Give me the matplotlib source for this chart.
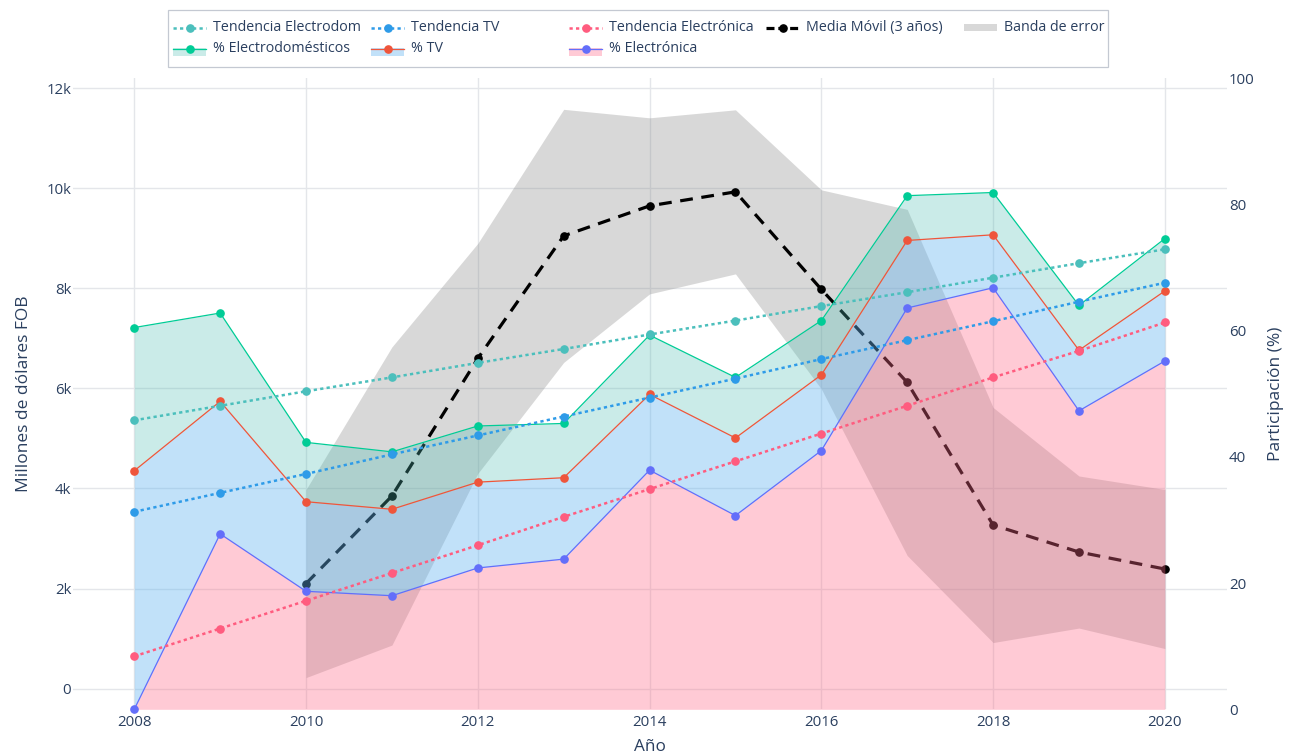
import matplotlib
matplotlib.use('Agg')
import matplotlib.pyplot as plt
import numpy as np
from matplotlib.patches import Rectangle
from matplotlib.ticker import FuncFormatter, FixedLocator

plt.rcParams['font.family'] = ['Open Sans', 'DejaVu Sans']

# ---------------- data ----------------
years = [2008, 2009, 2010, 2011, 2012, 2013, 2014, 2015, 2016, 2017, 2018, 2019, 2020]
pct_electronica = [0.0, 27.8, 18.7, 18.0, 22.4, 23.8, 37.9, 30.7, 41.0, 63.6, 66.8, 47.3, 55.2]
pct_tv = [37.8, 48.8, 32.9, 31.7, 36.0, 36.7, 49.9, 43.0, 53.0, 74.3, 75.2, 56.9, 66.3]
pct_electrodom = [60.5, 62.8, 42.3, 40.8, 44.9, 45.3, 59.3, 52.6, 61.6, 81.4, 81.9, 64.0, 74.6]
trend_electrodom = [45.8, 48.1, 50.4, 52.6, 54.9, 57.1, 59.4, 61.6, 63.9, 66.1, 68.4, 70.7, 72.9]
trend_tv = [31.3, 34.3, 37.3, 40.4, 43.4, 46.4, 49.4, 52.4, 55.5, 58.5, 61.5, 64.6, 67.6]
trend_electronica = [8.4, 12.8, 17.2, 21.6, 26.0, 30.5, 34.9, 39.3, 43.7, 48.1, 52.6, 56.8, 61.3]

mm_years = [2010, 2011, 2012, 2013, 2014, 2015, 2016, 2017, 2018, 2019, 2020]
media_movil = [2100, 3850, 6600, 9050, 9650, 9930, 7980, 6120, 3270, 2730, 2390]
error_band = [1880, 2980, 2300, 2530, 1760, 1640, 1990, 3460, 2350, 1520, 1590]

xticks = [2008, 2010, 2012, 2014, 2016, 2018, 2020]
left_ticks = [0, 2000, 4000, 6000, 8000, 10000, 12000]
right_ticks = [0, 20, 40, 60, 80, 100]

# ---------------- style ----------------
TXT = '#2a3f5f'
GRID = '#e4e6ea'
C_EL = '#636EFA'
C_TV = '#EF553B'
C_ED = '#00CC96'
C_T_ED = '#4BBFBC'
C_T_TV = '#2E9BE8'
C_T_EL = '#FF5C7F'
F_EL = (1.0, 105/255, 135/255, 0.35)
F_TV = (100/255, 180/255, 240/255, 0.40)
F_ED = (80/255, 190/255, 180/255, 0.30)
F_BAND = (0.5, 0.5, 0.5, 0.30)
DOT = (0, (1.3, 1.3))
DASH = (0, (4, 2.7))
MS = 5.2

W, H = 1294, 756
fig = plt.figure(figsize=(W/100, H/100), dpi=100)
x0, x1, yt, yb = 73.3, 1226.7, 78.3, 709.3
ax = fig.add_axes([x0/W, 1-yb/H, (x1-x0)/W, (yb-yt)/H])
ax2 = ax.twinx()

# left axis: moving average and error band
mm = np.array(media_movil, dtype=float)
err = np.array(error_band, dtype=float)
ax.fill_between(mm_years, mm-err, mm+err, color=F_BAND, lw=0, zorder=1)
ax.plot(mm_years, mm, color='black', lw=2.3, ls=DASH, marker='o', ms=MS, zorder=2)

# right axis: shares
ax2.fill_between(years, 0, pct_electronica, color=F_EL, lw=0, zorder=1)
ax2.fill_between(years, pct_electronica, pct_tv, color=F_TV, lw=0, zorder=1)
ax2.fill_between(years, pct_tv, pct_electrodom, color=F_ED, lw=0, zorder=1)

ax2.plot(years, pct_electronica, color=C_EL, lw=0.9, marker='o', ms=MS, zorder=3, clip_on=False)
ax2.plot(years, pct_tv, color=C_TV, lw=0.9, marker='o', ms=MS, zorder=3)
ax2.plot(years, pct_electrodom, color=C_ED, lw=0.9, marker='o', ms=MS, zorder=3)

ax2.plot(years, trend_electrodom, color=C_T_ED, lw=1.8, ls=DOT, marker='o', ms=MS, zorder=4)
ax2.plot(years, trend_tv, color=C_T_TV, lw=1.8, ls=DOT, marker='o', ms=MS, zorder=4)
ax2.plot(years, trend_electronica, color=C_T_EL, lw=1.8, ls=DOT, marker='o', ms=MS, zorder=4)

# axes limits and ticks
ax.set_xlim(2007.29, 2020.72)
ax.set_ylim(-414, 12200)
ax2.set_ylim(0, 100)
ax.xaxis.set_major_locator(FixedLocator(xticks))
ax.yaxis.set_major_locator(FixedLocator(left_ticks))
ax2.yaxis.set_major_locator(FixedLocator(right_ticks))
ax.yaxis.set_major_formatter(FuncFormatter(lambda v, p: '0' if v == 0 else f'{int(v/1000)}k'))

ax.set_axisbelow(True)
ax.grid(True, color=GRID, lw=1.0, zorder=0)
for a in (ax, ax2):
    for s in a.spines.values():
        s.set_visible(False)
    a.tick_params(length=0, labelsize=10.8, colors=TXT)
ax.tick_params(axis='y', pad=1.5)
ax.tick_params(axis='x', pad=4)
ax2.tick_params(axis='y', pad=1.5)

ax.set_xlabel('Año', fontsize=12.3, color=TXT, labelpad=6.5)
ax.set_ylabel('Millones de dólares FOB', fontsize=12.5, color=TXT, labelpad=10)
ax2.set_ylabel('Participación (%)', fontsize=12.5, color=TXT, labelpad=10)

# ---------------- legend (drawn in pixel coordinates) ----------------
lax = fig.add_axes([0, 0, 1, 1], zorder=10)
lax.set_xlim(0, W)
lax.set_ylim(H, 0)
lax.axis('off')
lax.patch.set_visible(False)
lax.add_patch(Rectangle((167.5, 10), 940, 56.5, facecolor='white', edgecolor='#c4c9d2', lw=0.9))

row1, row2 = 27.5, 48.5
entries = [
    ('Tendencia Electrodom', 'trend', C_T_ED, None, 173, row1),
    ('Tendencia TV', 'trend', C_T_TV, None, 371, row1),
    ('Tendencia Electrónica', 'trend', C_T_EL, None, 569, row1),
    ('Media Móvil (3 años)', 'mm', 'black', None, 766, row1),
    ('Banda de error', 'band', None, F_BAND, 964, row1),
    ('% Electrodomésticos', 'area', C_ED, F_ED, 173, row2),
    ('% TV', 'area', C_TV, F_TV, 371, row2),
    ('% Electrónica', 'area', C_EL, F_EL, 569, row2),
]
HL = 33
for label, kind, col, fcol, hx, hy in entries:
    xs = [hx, hx + HL]
    if kind == 'trend':
        lax.plot(xs, [hy, hy], color=col, lw=1.8, ls=DOT)
        lax.plot([hx + HL/2], [hy], color=col, marker='o', ms=MS)
    elif kind == 'mm':
        lax.plot(xs, [hy, hy], color=col, lw=2.3, ls=(0, (2.5, 1.2)))
        lax.plot([hx + HL/2], [hy], color=col, marker='o', ms=MS)
    elif kind == 'band':
        lax.add_patch(Rectangle((hx, hy - 3.5), HL, 7, facecolor=fcol, edgecolor='none'))
    else:
        lax.add_patch(Rectangle((hx, hy - 1), HL, 8, facecolor=fcol, edgecolor='none'))
        lax.plot(xs, [hy, hy], color=col, lw=0.9)
        lax.plot([hx + HL/2], [hy], color=col, marker='o', ms=MS)
    lax.text(hx + 40, hy, label, fontsize=10.3, color=TXT, va='center', ha='left')

fig.savefig('out.png', dpi=100)
